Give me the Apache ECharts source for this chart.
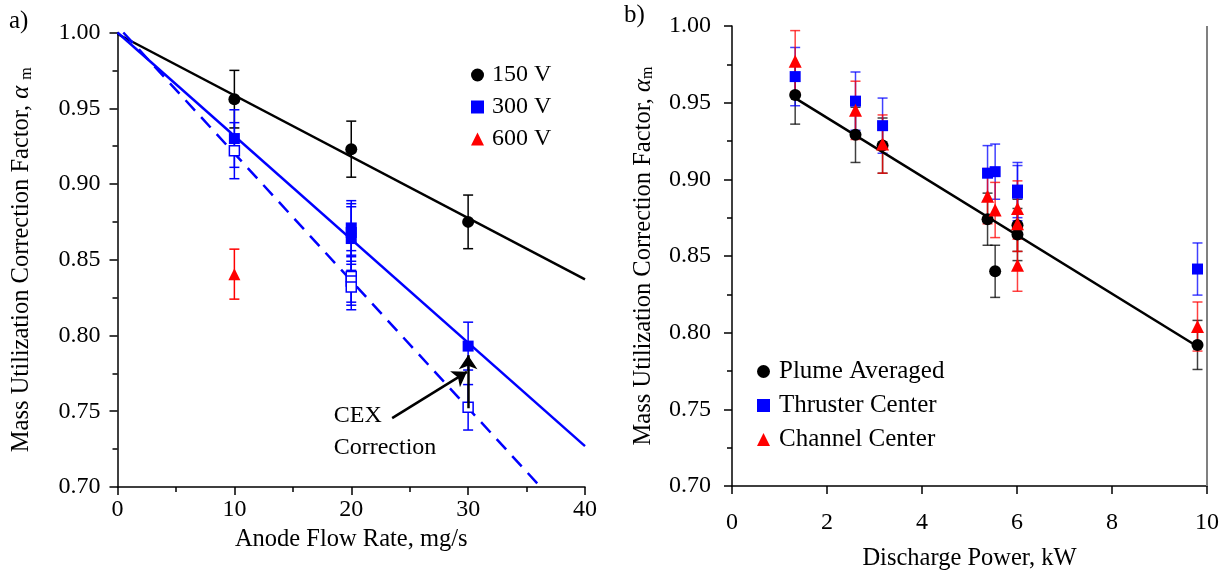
<!DOCTYPE html>
<html>
<head>
<meta charset="utf-8">
<script src="https://cdn.jsdelivr.net/npm/echarts@6/dist/echarts.min.js"></script>
<style>
html,body{margin:0;padding:0;background:#fff;}
#chart{width:1231px;height:577px;}
</style>
</head>
<body>
<div id="chart"></div>
<script>
// ---------- Panel a) : Anode flow rate ----------
const flow150 = [10, 20, 30];
const alpha150 = [0.956, 0.923, 0.875];
const err150 = [0.019, 0.0185, 0.0177];

const flow300 = [10, 20, 20, 20, 30];
const alpha300 = [0.930, 0.871, 0.868, 0.864, 0.793];
const err300 = [0.019, 0.018, 0.019, 0.021, 0.0158];

const flow300open = [10, 20, 20, 20, 30];
const alpha300open = [0.922, 0.839, 0.836, 0.832, 0.7526];
const err300open = [0.0185, 0.017, 0.016, 0.015, 0.015];

const flow600 = [10];
const alpha600 = [0.8405];
const err600 = [0.0165];

const fitLine150 = [[0, 0.999], [40, 0.837]];
const fitLine300 = [[0, 1.0], [40, 0.727]];
const fitLine300open = [[0.5, 1.0], [36.2, 0.70]];

const cexArrowVertical = [[30, 0.752], [30, 0.787]];
const cexArrowDiagonal = [[23.5, 0.7455], [29.9, 0.776]];
const cexTextAnchor = [18.5, 0.7574];

const xTicksA = [0, 10, 20, 30, 40];
const yTicks = [0.70, 0.75, 0.80, 0.85, 0.90, 0.95, 1.00];

// ---------- Panel b) : Discharge power ----------
const powerPlume = [1.33, 2.6, 3.17, 5.38, 5.54, 6.01, 6.01, 9.8];
const alphaPlume = [0.955, 0.929, 0.922, 0.874, 0.840, 0.870, 0.864, 0.792];
const errPlume = [0.019, 0.018, 0.018, 0.017, 0.017, 0.017, 0.017, 0.016];

const powerThruster = [1.33, 2.6, 3.17, 5.38, 5.54, 6.01, 6.01, 9.8];
const alphaThruster = [0.967, 0.951, 0.935, 0.904, 0.905, 0.893, 0.891, 0.8415];
const errThruster = [0.019, 0.019, 0.018, 0.018, 0.018, 0.018, 0.018, 0.017];

const powerChannel = [1.33, 2.6, 3.17, 5.38, 5.54, 6.01, 6.01, 6.01, 9.8];
const alphaChannel = [0.977, 0.945, 0.923, 0.889, 0.880, 0.881, 0.871, 0.844, 0.804];
const errChannel = [0.020, 0.019, 0.019, 0.018, 0.018, 0.018, 0.018, 0.017, 0.016];

const fitLinePower = [[1.33, 0.953], [9.8, 0.791]];

const FONT = 'Liberation Serif';
const BLACK = '#000000', BLUE = '#0000ff', RED = '#ff0000';

function pts(xs, ys) { return xs.map((x, i) => [x, ys[i]]); }
function errs(xs, ys, es) { return xs.map((x, i) => [x, ys[i] - es[i], ys[i] + es[i]]); }

function errorBarSeries(data, color, gi, opacity) {
  return {
    type: 'custom', xAxisIndex: gi, yAxisIndex: gi, silent: true, z: 1,
    data: data,
    renderItem: function (params, api) {
      const x = api.value(0), lo = api.value(1), hi = api.value(2);
      const a = api.coord([x, lo]), b = api.coord([x, hi]);
      const w = 5;
      const st = { stroke: color, lineWidth: 1.5, opacity: opacity };
      return { type: 'group', children: [
        { type: 'line', shape: { x1: a[0], y1: a[1], x2: b[0], y2: b[1] }, style: st },
        { type: 'line', shape: { x1: a[0] - w, y1: a[1], x2: a[0] + w, y2: a[1] }, style: st },
        { type: 'line', shape: { x1: b[0] - w, y1: b[1], x2: b[0] + w, y2: b[1] }, style: st }
      ]};
    }
  };
}

function yAxisCfg(gi, margin, nameText, gap) {
  return {
    gridIndex: gi, type: 'value', min: 0.70, max: 1.00, interval: 0.05,
    name: nameText, nameLocation: 'middle', nameGap: gap, nameRotate: 90,
    nameTextStyle: { fontFamily: FONT, fontSize: 24.5, color: '#000',
      rich: { sub: { fontFamily: FONT, fontSize: 16, color: '#000', padding: [9, 0, 0, 0] },
              al: { fontFamily: FONT, fontSize: 24.5, color: '#000', fontStyle: 'italic' } } },
    axisLine: { show: true, onZero: false, lineStyle: { color: '#000', width: 1.5 } },
    axisTick: { show: true, inside: false, length: 8, lineStyle: { color: '#000', width: 1.5 } },
    minorTick: { show: true, splitNumber: 2, length: 5, lineStyle: { color: '#000', width: 1.5 } },
    splitLine: { show: false },
    axisLabel: { fontFamily: FONT, fontSize: 24, color: '#000', margin: margin,
      formatter: v => v.toFixed(2) }
  };
}

const option = {
  backgroundColor: '#fff',
  animation: false,
  title: [
    { text: 'a)', left: 4, top: 4, textStyle: { fontFamily: FONT, fontSize: 25, fontWeight: 'normal', color: '#000' } },
    { text: 'b)', left: 619, top: -2, textStyle: { fontFamily: FONT, fontSize: 25, fontWeight: 'normal', color: '#000' } }
  ],
  grid: [
    { left: 117.5, right: 646, top: 32.5, bottom: 90 },
    { left: 732, right: 24, top: 26, bottom: 91 }
  ],
  xAxis: [
    { gridIndex: 0, type: 'value', min: xTicksA[0], max: xTicksA[xTicksA.length - 1], interval: 10,
      name: 'Anode Flow Rate, mg/s', nameLocation: 'middle', nameGap: 36,
      nameTextStyle: { fontFamily: FONT, fontSize: 24.5, color: '#000' },
      axisLine: { onZero: false, lineStyle: { color: '#000', width: 1.5 } },
      axisTick: { inside: false, length: 8, lineStyle: { color: '#000', width: 1.5 } },
      minorTick: { show: true, splitNumber: 2, length: 5, lineStyle: { color: '#000', width: 1.5 } },
      splitLine: { show: false },
      axisLabel: { fontFamily: FONT, fontSize: 24, color: '#000', margin: 11 } },
    { gridIndex: 1, type: 'value', min: 0, max: 10, interval: 2,
      name: 'Discharge Power, kW', nameLocation: 'middle', nameGap: 60,
      nameTextStyle: { fontFamily: FONT, fontSize: 24.5, color: '#000' },
      axisLine: { onZero: false, lineStyle: { color: '#000', width: 1.5 } },
      axisTick: { inside: false, length: 8, lineStyle: { color: '#000', width: 1.5 } },
      splitLine: { show: false },
      axisLabel: { fontFamily: FONT, fontSize: 24, color: '#000', margin: 25 } }
  ],
  yAxis: [
    yAxisCfg(0, 17, 'Mass Utilization Correction Factor, {al|α} {sub|m}', 83),
    yAxisCfg(1, 21, 'Mass Utilization Correction Factor, {al|α}{sub|m}', 76)
  ],
  legend: [
    { orient: 'vertical', left: 466, top: 58, itemGap: 8, itemWidth: 13, itemHeight: 13,
      textStyle: { fontFamily: FONT, fontSize: 24, color: '#000', padding: [0, 0, 0, 3] },
      data: ['150 V', '300 V', '600 V'] },
    { orient: 'vertical', left: 752, top: 354, itemGap: 9, itemWidth: 13, itemHeight: 13,
      textStyle: { fontFamily: FONT, fontSize: 25, color: '#000', padding: [0, 0, 0, 4] },
      data: ['Plume Averaged', 'Thruster Center', 'Channel Center'] }
  ],
  series: [
    // panel a lines
    { type: 'line', xAxisIndex: 0, yAxisIndex: 0, data: fitLine150, showSymbol: false, silent: true,
      lineStyle: { color: BLACK, width: 2.5 }, z: 2 },
    { type: 'line', xAxisIndex: 0, yAxisIndex: 0, data: fitLine300, showSymbol: false, silent: true,
      lineStyle: { color: BLUE, width: 2.5 }, z: 2 },
    { type: 'line', xAxisIndex: 0, yAxisIndex: 0, data: fitLine300open, showSymbol: false, silent: true,
      lineStyle: { color: BLUE, width: 2.5, type: [14, 9] }, z: 2 },
    // panel a error bars
    errorBarSeries(errs(flow150, alpha150, err150), BLACK, 0, 1),
    errorBarSeries(errs(flow300, alpha300, err300), BLUE, 0, 1),
    errorBarSeries(errs(flow300open, alpha300open, err300open), BLUE, 0, 1),
    errorBarSeries(errs(flow600, alpha600, err600), RED, 0, 1),
    // panel a markers
    { name: '150 V', type: 'scatter', xAxisIndex: 0, yAxisIndex: 0, data: pts(flow150, alpha150),
      symbol: 'circle', symbolSize: 12, itemStyle: { color: BLACK, opacity: 1 }, z: 5 },
    { name: '300 V open', type: 'scatter', xAxisIndex: 0, yAxisIndex: 0, data: pts(flow300open, alpha300open),
      symbol: 'rect', symbolSize: 10, itemStyle: { color: '#fff', borderColor: BLUE, borderWidth: 1.5, opacity: 1 }, z: 5 },
    { name: '300 V', type: 'scatter', xAxisIndex: 0, yAxisIndex: 0, data: pts(flow300, alpha300),
      symbol: 'rect', symbolSize: 11, itemStyle: { color: BLUE, opacity: 1 }, z: 5 },
    { name: '600 V', type: 'scatter', xAxisIndex: 0, yAxisIndex: 0, data: pts(flow600, alpha600),
      symbol: 'triangle', symbolSize: 12, itemStyle: { color: RED, opacity: 1 }, z: 5 },
    // CEX arrows
    { type: 'lines', coordinateSystem: 'cartesian2d', xAxisIndex: 0, yAxisIndex: 0, silent: true, z: 6,
      symbol: ['none', 'arrow'], symbolSize: 14,
      lineStyle: { color: BLACK, width: 2.5, opacity: 1 },
      data: [{ coords: cexArrowVertical }, { coords: cexArrowDiagonal }] },
    // panel b
    { type: 'line', xAxisIndex: 1, yAxisIndex: 1, data: fitLinePower, showSymbol: false, silent: true,
      lineStyle: { color: BLACK, width: 2.5 }, z: 2,
      markLine: { silent: true, symbol: 'none', label: { show: false },
        lineStyle: { color: '#808080', width: 2, type: 'solid' }, data: [{ xAxis: 10 }] } },
    errorBarSeries(errs(powerPlume, alphaPlume, errPlume), BLACK, 1, 0.75),
    errorBarSeries(errs(powerThruster, alphaThruster, errThruster), BLUE, 1, 0.75),
    errorBarSeries(errs(powerChannel, alphaChannel, errChannel), RED, 1, 0.75),
    { name: 'Plume Averaged', type: 'scatter', xAxisIndex: 1, yAxisIndex: 1, data: pts(powerPlume, alphaPlume),
      symbol: 'circle', symbolSize: 12, itemStyle: { color: BLACK, opacity: 1 }, z: 5 },
    { name: 'Thruster Center', type: 'scatter', xAxisIndex: 1, yAxisIndex: 1, data: pts(powerThruster, alphaThruster),
      symbol: 'rect', symbolSize: 11, itemStyle: { color: BLUE, opacity: 1 }, z: 5 },
    { name: 'Channel Center', type: 'scatter', xAxisIndex: 1, yAxisIndex: 1, data: pts(powerChannel, alphaChannel),
      symbol: 'triangle', symbolSize: 13, itemStyle: { color: RED, opacity: 1 }, z: 5 }
  ]
};

const chart = echarts.init(document.getElementById('chart'));
chart.setOption(option);
const p = chart.convertToPixel({ gridIndex: 0 }, cexTextAnchor);
chart.setOption({
  graphic: [{ type: 'text', x: p[0], y: p[1], z: 10, silent: true,
    style: { text: 'CEX\nCorrection', fontFamily: FONT, fontSize: 24, lineHeight: 32,
      fill: '#000', align: 'left', verticalAlign: 'top' } }]
});
</script>
</body>
</html>
